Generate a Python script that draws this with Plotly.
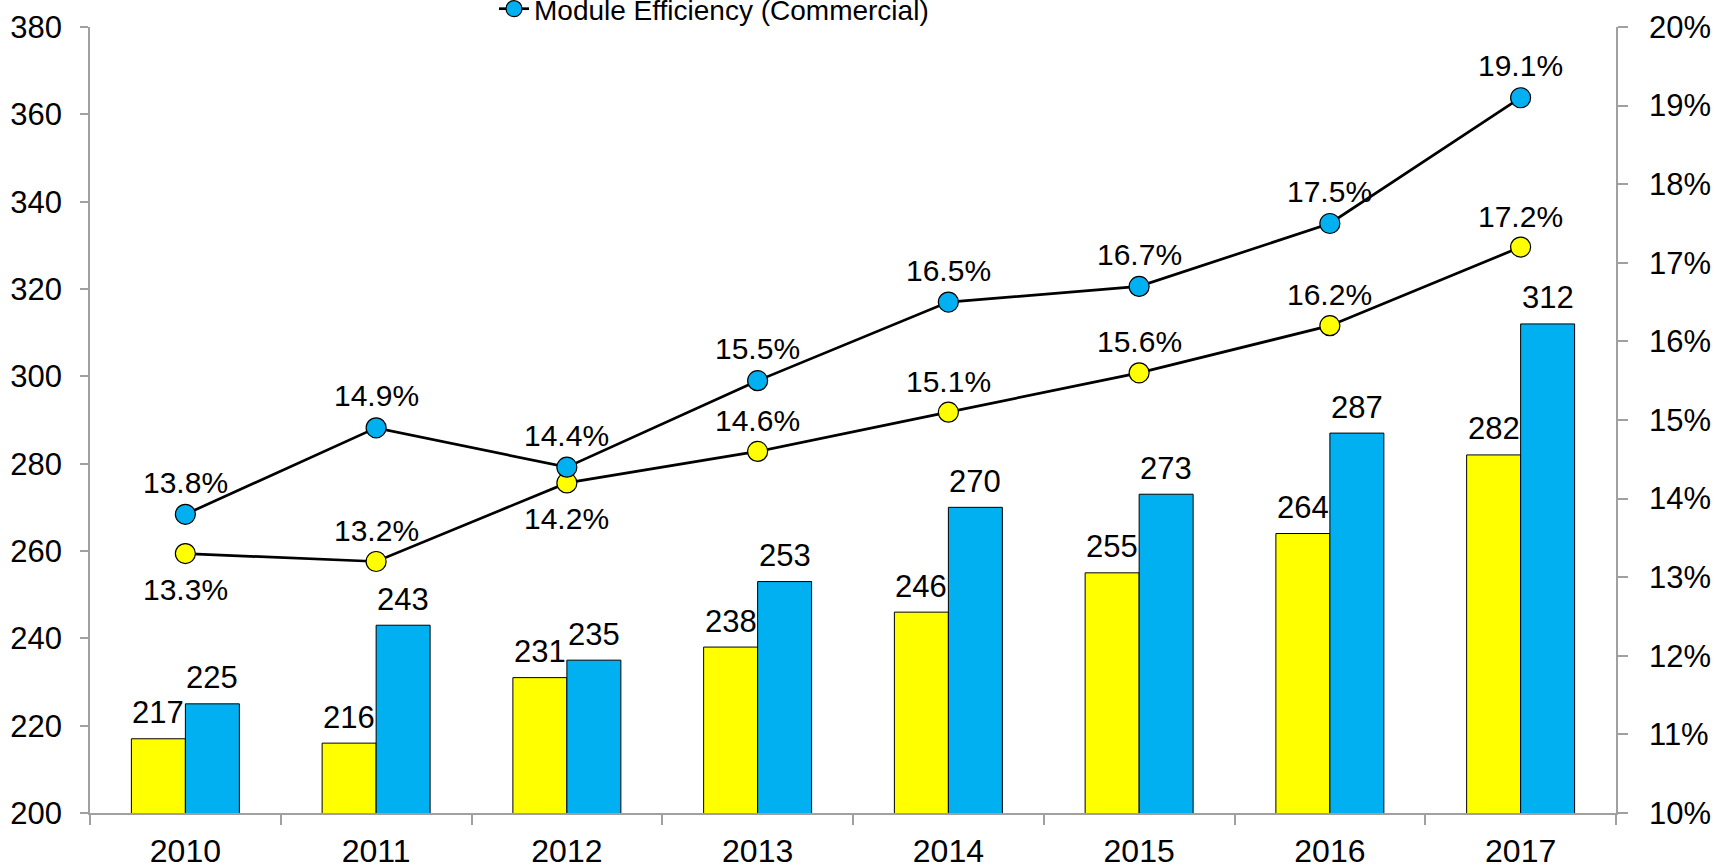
import plotly.graph_objects as go

years = ["2010", "2011", "2012", "2013", "2014", "2015", "2016", "2017"]
power_std = [217, 216, 231, 238, 246, 255, 264, 282]
power_com = [225, 243, 235, 253, 270, 273, 287, 312]
eff_com = [0.138, 0.149, 0.144, 0.155, 0.165, 0.167, 0.175, 0.191]
eff_std = [0.133, 0.132, 0.142, 0.146, 0.151, 0.156, 0.162, 0.172]
eff_std_label_below = [True, False, True, False, False, False, False, False]

YELLOW = "#FFFF00"
BLUE = "#00B0F0"
AXIS = "#A0A0A0"
FONT = "Liberation Sans, Arial, sans-serif"

fig = go.Figure()
fig.add_trace(go.Bar(x=years, y=power_std, name="Module Power (Standard)",
                     marker=dict(color=YELLOW, line=dict(color="#000", width=1)),
                     showlegend=False))
fig.add_trace(go.Bar(x=years, y=power_com, name="Module Power (Commercial)",
                     marker=dict(color=BLUE, line=dict(color="#000", width=1)),
                     showlegend=False))
fig.add_trace(go.Scatter(x=years, y=eff_std, yaxis="y2", mode="lines+markers",
                         name="Module Efficiency (Standard)",
                         line=dict(color="#000", width=2.7),
                         marker=dict(color=YELLOW, size=20, line=dict(color="#000", width=1.2)),
                         showlegend=False))
fig.add_trace(go.Scatter(x=years, y=eff_com, yaxis="y2", mode="lines+markers",
                         name="Module Efficiency (Commercial)",
                         line=dict(color="#000", width=2.7),
                         marker=dict(color=BLUE, size=20, line=dict(color="#000", width=1.2)),
                         showlegend=True))

ann = []
bar_font = dict(size=31, color="#000", family=FONT)
lab_font = dict(size=30, color="#000", family=FONT)
for i, v in enumerate(power_std):
    ann.append(dict(x=i, y=v, xref="x", yref="y", text=str(v), showarrow=False,
                    xshift=-27, yshift=26, yanchor="middle", font=bar_font))
for i, v in enumerate(power_com):
    ann.append(dict(x=i, y=v, xref="x", yref="y", text=str(v), showarrow=False,
                    xshift=27, yshift=26, yanchor="middle", font=bar_font))
for i, v in enumerate(eff_com):
    ann.append(dict(x=i, y=v, xref="x", yref="y2", text=f"{v*100:.1f}%", showarrow=False,
                    yshift=32, yanchor="middle", font=lab_font))
for i, (v, below) in enumerate(zip(eff_std, eff_std_label_below)):
    ann.append(dict(x=i, y=v, xref="x", yref="y2", text=f"{v*100:.1f}%", showarrow=False,
                    yshift=-36 if below else 31, yanchor="middle", font=lab_font))

fig.update_layout(
    width=1718, height=866,
    margin=dict(l=90, r=102, t=27, b=53, autoexpand=False),
    paper_bgcolor="white", plot_bgcolor="white",
    font=dict(family=FONT, color="#000", size=30),
    barmode="group", bargap=0.434, bargroupgap=0,
    showlegend=True,
    legend=dict(x=(494 - 90) / 1526, xanchor="left", y=(813 - 9) / 786, yanchor="middle",
                orientation="h", font=dict(size=28, color="#000", family=FONT),
                bgcolor="rgba(0,0,0,0)", itemwidth=30),
    xaxis=dict(type="category", range=[-0.5, 7.5], showline=True, linecolor=AXIS, linewidth=1.5,
               ticks="outside", ticklen=10, tickcolor=AXIS, tickwidth=1.5,
               tickson="boundaries", showgrid=False, ticklabelstandoff=9,
               tickfont=dict(size=32, color="#000", family=FONT)),
    yaxis=dict(range=[200, 380], dtick=20, showline=True, linecolor=AXIS, linewidth=1.5,
               ticks="outside", ticklen=8, tickcolor=AXIS, tickwidth=1.5,
               showgrid=False, zeroline=False, ticklabelstandoff=12,
               tickfont=dict(size=31, color="#000", family=FONT)),
    yaxis2=dict(range=[0.10, 0.20], dtick=0.01, tickformat=".0%", overlaying="y", side="right",
                showline=True, linecolor=AXIS, linewidth=1.5,
                ticks="outside", ticklen=10, tickcolor=AXIS, tickwidth=1.5,
                showgrid=False, zeroline=False, ticklabelstandoff=15,
                tickfont=dict(size=31, color="#000", family=FONT)),
    annotations=ann,
)

fig.write_html("out.html", post_script="document.body.style.margin='0';",
               config={"displayModeBar": False})
